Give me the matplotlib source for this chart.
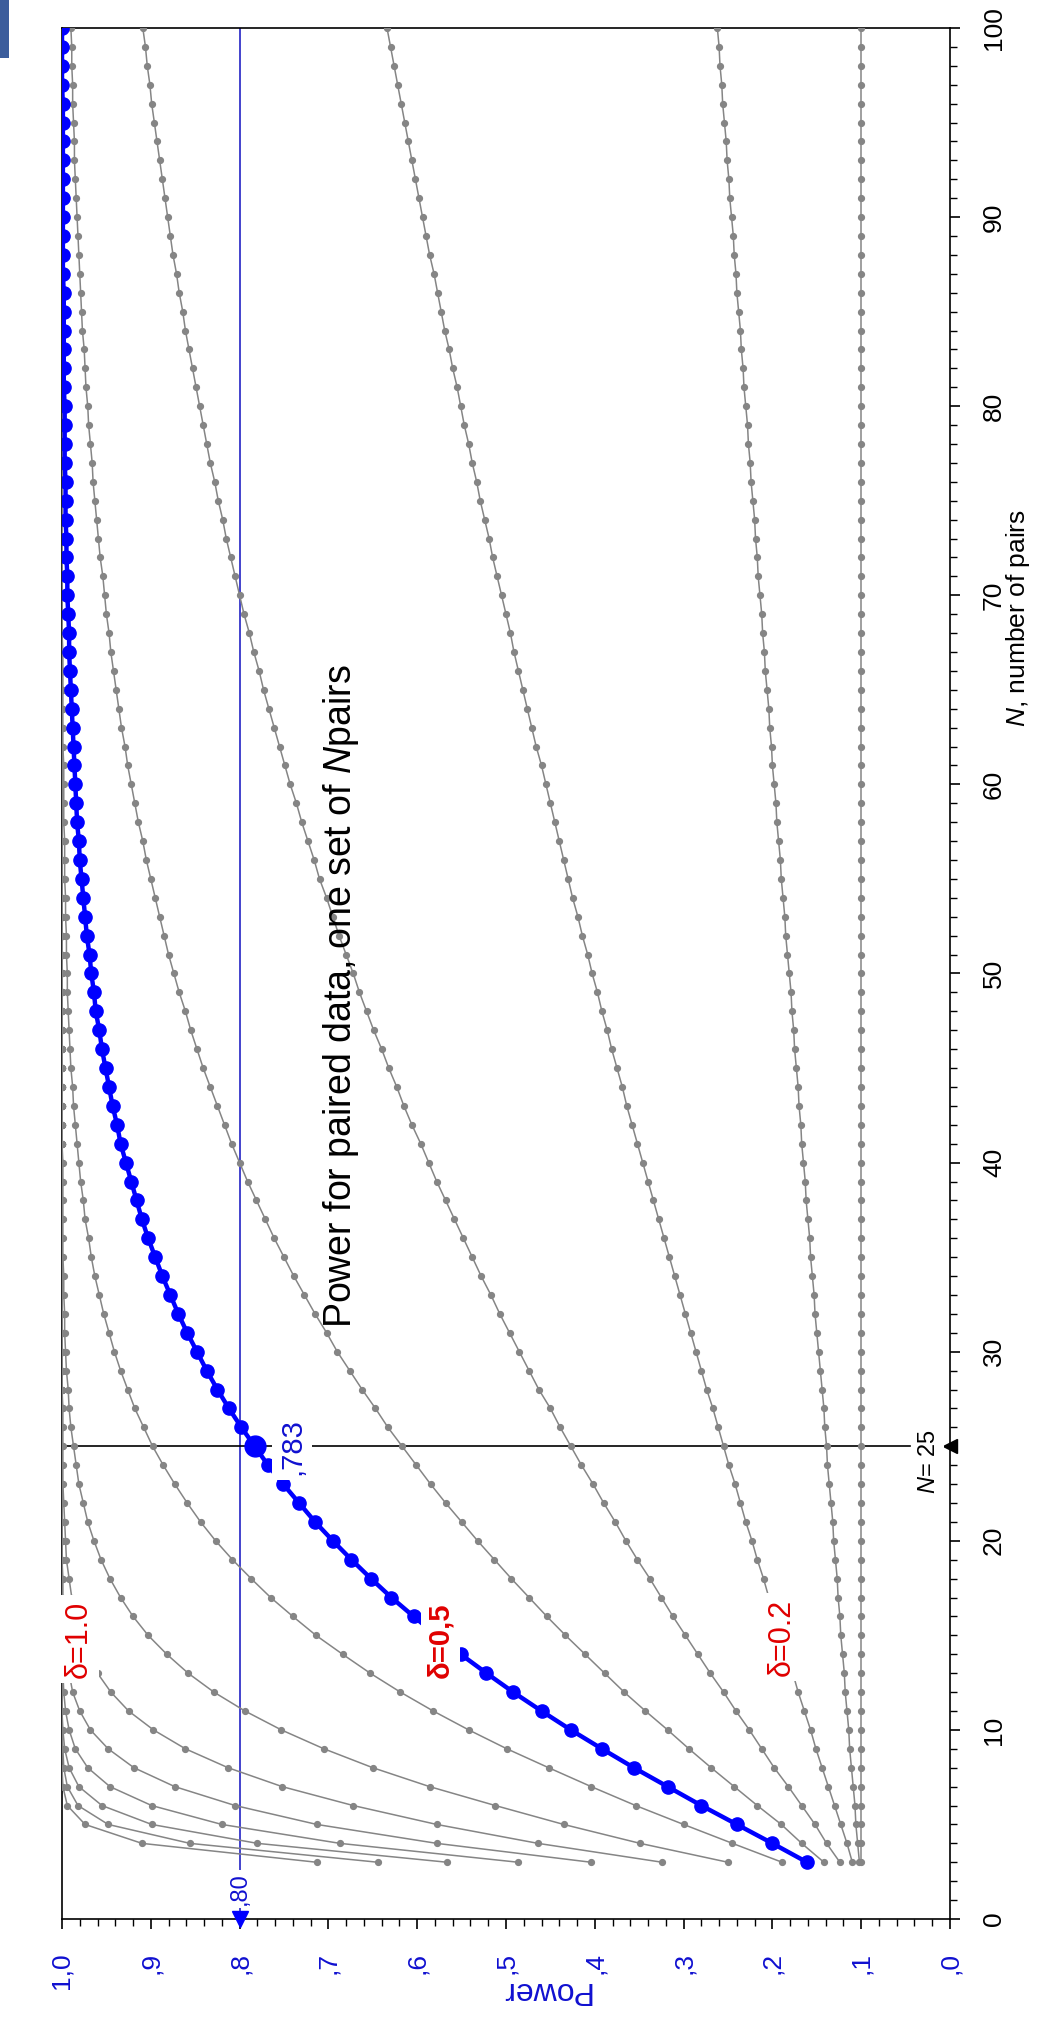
import matplotlib
matplotlib.use("Agg")
import matplotlib.pyplot as plt
from matplotlib.ticker import MultipleLocator, FuncFormatter
from matplotlib.patches import Rectangle

plt.rcParams['font.family'] = ['Liberation Sans', 'DejaVu Sans']
plt.rcParams['mathtext.fontset'] = 'custom'
plt.rcParams['mathtext.it'] = 'Liberation Sans:italic'
plt.rcParams['mathtext.rm'] = 'Liberation Sans'

# ---------------- data ----------------
n_pairs = list(range(3, 101))          # N = 3 ... 100

power_d00 = [0.100] * 98

power_d01 = [0.102, 0.104, 0.106, 0.107, 0.109, 0.111, 0.113, 0.114, 0.116, 0.118,
             0.119, 0.121, 0.123, 0.124, 0.126, 0.127, 0.129, 0.131, 0.132, 0.134,
             0.136, 0.138, 0.139, 0.141, 0.142, 0.144, 0.146, 0.148, 0.150, 0.152,
             0.153, 0.155, 0.157, 0.158, 0.160, 0.162, 0.163, 0.165, 0.167, 0.168,
             0.170, 0.171, 0.173, 0.175, 0.176, 0.178, 0.179, 0.181, 0.183, 0.185,
             0.186, 0.188, 0.190, 0.191, 0.193, 0.195, 0.196, 0.198, 0.200, 0.201,
             0.203, 0.204, 0.206, 0.208, 0.209, 0.211, 0.212, 0.214, 0.216, 0.217,
             0.219, 0.220, 0.222, 0.224, 0.225, 0.227, 0.228, 0.230, 0.232, 0.233,
             0.235, 0.236, 0.238, 0.240, 0.241, 0.243, 0.244, 0.246, 0.248, 0.249,
             0.251, 0.252, 0.254, 0.256, 0.257, 0.259, 0.260, 0.262]

power_d02 = [0.110, 0.116, 0.123, 0.130, 0.137, 0.144, 0.151, 0.157, 0.164, 0.171,
             0.177, 0.184, 0.190, 0.196, 0.204, 0.210, 0.217, 0.223, 0.230, 0.236,
             0.242, 0.249, 0.255, 0.261, 0.267, 0.274, 0.280, 0.286, 0.292, 0.298,
             0.304, 0.310, 0.316, 0.322, 0.328, 0.334, 0.340, 0.346, 0.352, 0.358,
             0.364, 0.369, 0.375, 0.381, 0.386, 0.392, 0.397, 0.403, 0.408, 0.414,
             0.419, 0.425, 0.430, 0.435, 0.440, 0.445, 0.450, 0.455, 0.460, 0.466,
             0.471, 0.476, 0.481, 0.486, 0.491, 0.495, 0.500, 0.505, 0.510, 0.515,
             0.519, 0.524, 0.529, 0.533, 0.538, 0.542, 0.547, 0.551, 0.555, 0.560,
             0.564, 0.569, 0.573, 0.577, 0.581, 0.586, 0.590, 0.594, 0.598, 0.602,
             0.606, 0.610, 0.614, 0.618, 0.622, 0.626, 0.630, 0.634]

power_d03 = [0.124, 0.139, 0.152, 0.167, 0.182, 0.198, 0.212, 0.226, 0.241, 0.255,
             0.270, 0.284, 0.298, 0.312, 0.325, 0.338, 0.352, 0.365, 0.377, 0.390,
             0.402, 0.415, 0.427, 0.439, 0.450, 0.463, 0.474, 0.485, 0.496, 0.507,
             0.517, 0.528, 0.538, 0.548, 0.558, 0.568, 0.578, 0.587, 0.596, 0.606,
             0.615, 0.623, 0.632, 0.640, 0.649, 0.657, 0.665, 0.672, 0.680, 0.688,
             0.695, 0.702, 0.710, 0.716, 0.723, 0.730, 0.736, 0.743, 0.749, 0.755,
             0.761, 0.767, 0.773, 0.778, 0.784, 0.789, 0.795, 0.800, 0.805, 0.810,
             0.815, 0.819, 0.824, 0.828, 0.833, 0.837, 0.841, 0.845, 0.849, 0.853,
             0.857, 0.861, 0.864, 0.868, 0.871, 0.875, 0.878, 0.881, 0.884, 0.887,
             0.890, 0.893, 0.896, 0.899, 0.901, 0.904, 0.906, 0.909]

power_d04 = [0.142, 0.167, 0.190, 0.217, 0.243, 0.269, 0.294, 0.318, 0.343, 0.367,
             0.389, 0.411, 0.433, 0.454, 0.474, 0.494, 0.513, 0.532, 0.550, 0.568,
             0.585, 0.601, 0.617, 0.633, 0.647, 0.662, 0.676, 0.690, 0.702, 0.715,
             0.727, 0.739, 0.750, 0.761, 0.771, 0.781, 0.791, 0.800, 0.809, 0.817,
             0.825, 0.833, 0.841, 0.848, 0.855, 0.861, 0.868, 0.874, 0.880, 0.885,
             0.890, 0.895, 0.900, 0.905, 0.909, 0.914, 0.918, 0.922, 0.926, 0.929,
             0.933, 0.936, 0.939, 0.942, 0.945, 0.947, 0.950, 0.952, 0.954, 0.957,
             0.959, 0.961, 0.963, 0.965, 0.966, 0.968, 0.970, 0.971, 0.973, 0.974,
             0.975, 0.977, 0.978, 0.979, 0.980, 0.981, 0.982, 0.983, 0.984, 0.985,
             0.986, 0.986, 0.987, 0.988, 0.988, 0.989, 0.989, 0.990]

power_d05 = [0.161, 0.200, 0.240, 0.280, 0.318, 0.356, 0.392, 0.427, 0.460, 0.492,
             0.522, 0.551, 0.578, 0.604, 0.629, 0.652, 0.674, 0.695, 0.715, 0.733,
             0.751, 0.768, 0.783, 0.798, 0.812, 0.825, 0.837, 0.848, 0.859, 0.869,
             0.878, 0.887, 0.895, 0.903, 0.910, 0.916, 0.922, 0.928, 0.934, 0.938,
             0.943, 0.947, 0.951, 0.955, 0.958, 0.962, 0.964, 0.967, 0.969, 0.972,
             0.974, 0.976, 0.978, 0.980, 0.981, 0.983, 0.984, 0.985, 0.986, 0.987,
             0.988, 0.989, 0.990, 0.991, 0.992, 0.992, 0.993, 0.994, 0.994, 0.995,
             0.995, 0.996, 0.996, 0.996, 0.997, 0.997, 0.997, 0.997, 0.998, 0.998,
             0.998, 0.998, 0.998, 0.998, 0.999, 0.999, 0.999, 0.999, 0.999, 0.999,
             0.999, 0.999, 0.999, 0.999, 1.000, 1.000, 1.000, 1.000]

power_d06 = [0.189, 0.245, 0.300, 0.354, 0.404, 0.452, 0.499, 0.542, 0.582, 0.619,
             0.653, 0.684, 0.714, 0.740, 0.765, 0.787, 0.808, 0.827, 0.844, 0.859,
             0.873, 0.886, 0.898, 0.908, 0.918, 0.926, 0.934, 0.941, 0.947, 0.953,
             0.958, 0.963, 0.967, 0.970, 0.974, 0.976, 0.979, 0.981, 0.983, 0.985,
             0.987, 0.988, 0.990, 0.991, 0.992, 0.993, 0.994, 0.994, 0.995, 0.995,
             0.996, 0.996, 0.997, 0.997, 0.997, 0.998, 0.998, 0.998, 0.998, 0.999,
             0.999, 0.999, 0.999, 0.999, 0.999, 1.000, 1.000, 1.000, 1.000, 1.000,
             1.000, 1.000, 1.000, 1.000, 1.000, 1.000, 1.000, 1.000, 1.000, 1.000,
             1.000, 1.000, 1.000, 1.000, 1.000, 1.000, 1.000, 1.000, 1.000, 1.000,
             1.000, 1.000, 1.000, 1.000, 1.000, 1.000, 1.000, 1.000]

power_d08 = [0.250, 0.349, 0.435, 0.512, 0.586, 0.650, 0.705, 0.753, 0.794, 0.829,
             0.858, 0.882, 0.903, 0.920, 0.934, 0.946, 0.956, 0.964, 0.971, 0.976,
             0.981, 0.984, 0.987, 0.990, 0.992, 0.993, 0.995, 0.996, 0.997, 0.997,
             0.998, 0.998, 0.999, 0.999, 0.999, 0.999, 0.999, 0.999, 1.000, 1.000,
             1.000, 1.000, 1.000, 1.000, 1.000, 1.000, 1.000, 1.000, 1.000, 1.000,
             1.000, 1.000, 1.000, 1.000, 1.000, 1.000, 1.000, 1.000, 1.000, 1.000,
             1.000, 1.000, 1.000, 1.000, 1.000, 1.000, 1.000, 1.000, 1.000, 1.000,
             1.000, 1.000, 1.000, 1.000, 1.000, 1.000, 1.000, 1.000, 1.000, 1.000,
             1.000, 1.000, 1.000, 1.000, 1.000, 1.000, 1.000, 1.000, 1.000, 1.000,
             1.000, 1.000, 1.000, 1.000, 1.000, 1.000, 1.000, 1.000]

power_d10 = [0.324, 0.464, 0.578, 0.672, 0.752, 0.813, 0.861, 0.897, 0.925, 0.945,
             0.960, 0.971, 0.979, 0.985, 0.989, 0.992, 0.995, 0.996, 0.997, 0.998,
             0.999, 0.999, 0.999, 0.999, 0.999, 1.000, 1.000, 1.000, 1.000, 1.000,
             1.000, 1.000, 1.000, 1.000, 1.000, 1.000, 1.000, 1.000, 1.000, 1.000,
             1.000, 1.000, 1.000, 1.000, 1.000, 1.000, 1.000, 1.000, 1.000, 1.000,
             1.000, 1.000, 1.000, 1.000, 1.000, 1.000, 1.000, 1.000, 1.000, 1.000,
             1.000, 1.000, 1.000, 1.000, 1.000, 1.000, 1.000, 1.000, 1.000, 1.000,
             1.000, 1.000, 1.000, 1.000, 1.000, 1.000, 1.000, 1.000, 1.000, 1.000,
             1.000, 1.000, 1.000, 1.000, 1.000, 1.000, 1.000, 1.000, 1.000, 1.000,
             1.000, 1.000, 1.000, 1.000, 1.000, 1.000, 1.000, 1.000]

power_d12 = [0.404, 0.578, 0.713, 0.805, 0.873, 0.919, 0.948, 0.968, 0.980, 0.988,
             0.992, 0.995, 0.997, 0.998, 0.999, 0.999, 1.000, 1.000, 1.000, 1.000,
             1.000, 1.000, 1.000, 1.000, 1.000, 1.000, 1.000, 1.000, 1.000, 1.000,
             1.000, 1.000, 1.000, 1.000, 1.000, 1.000, 1.000, 1.000, 1.000, 1.000,
             1.000, 1.000, 1.000, 1.000, 1.000, 1.000, 1.000, 1.000, 1.000, 1.000,
             1.000, 1.000, 1.000, 1.000, 1.000, 1.000, 1.000, 1.000, 1.000, 1.000,
             1.000, 1.000, 1.000, 1.000, 1.000, 1.000, 1.000, 1.000, 1.000, 1.000,
             1.000, 1.000, 1.000, 1.000, 1.000, 1.000, 1.000, 1.000, 1.000, 1.000,
             1.000, 1.000, 1.000, 1.000, 1.000, 1.000, 1.000, 1.000, 1.000, 1.000,
             1.000, 1.000, 1.000, 1.000, 1.000, 1.000, 1.000, 1.000]

power_d14 = [0.486, 0.687, 0.820, 0.899, 0.946, 0.971, 0.985, 0.992, 0.996, 0.998,
             0.999, 1.000, 1.000, 1.000, 1.000, 1.000, 1.000, 1.000, 1.000, 1.000,
             1.000, 1.000, 1.000, 1.000, 1.000, 1.000, 1.000, 1.000, 1.000, 1.000,
             1.000, 1.000, 1.000, 1.000, 1.000, 1.000, 1.000, 1.000, 1.000, 1.000,
             1.000, 1.000, 1.000, 1.000, 1.000, 1.000, 1.000, 1.000, 1.000, 1.000,
             1.000, 1.000, 1.000, 1.000, 1.000, 1.000, 1.000, 1.000, 1.000, 1.000,
             1.000, 1.000, 1.000, 1.000, 1.000, 1.000, 1.000, 1.000, 1.000, 1.000,
             1.000, 1.000, 1.000, 1.000, 1.000, 1.000, 1.000, 1.000, 1.000, 1.000,
             1.000, 1.000, 1.000, 1.000, 1.000, 1.000, 1.000, 1.000, 1.000, 1.000,
             1.000, 1.000, 1.000, 1.000, 1.000, 1.000, 1.000, 1.000]

power_d16 = [0.566, 0.780, 0.899, 0.955, 0.981, 0.992, 0.997, 0.999, 1.000, 1.000,
             1.000, 1.000, 1.000, 1.000, 1.000, 1.000, 1.000, 1.000, 1.000, 1.000,
             1.000, 1.000, 1.000, 1.000, 1.000, 1.000, 1.000, 1.000, 1.000, 1.000,
             1.000, 1.000, 1.000, 1.000, 1.000, 1.000, 1.000, 1.000, 1.000, 1.000,
             1.000, 1.000, 1.000, 1.000, 1.000, 1.000, 1.000, 1.000, 1.000, 1.000,
             1.000, 1.000, 1.000, 1.000, 1.000, 1.000, 1.000, 1.000, 1.000, 1.000,
             1.000, 1.000, 1.000, 1.000, 1.000, 1.000, 1.000, 1.000, 1.000, 1.000,
             1.000, 1.000, 1.000, 1.000, 1.000, 1.000, 1.000, 1.000, 1.000, 1.000,
             1.000, 1.000, 1.000, 1.000, 1.000, 1.000, 1.000, 1.000, 1.000, 1.000,
             1.000, 1.000, 1.000, 1.000, 1.000, 1.000, 1.000, 1.000]

power_d18 = [0.644, 0.856, 0.948, 0.982, 0.994, 0.998, 0.999, 1.000, 1.000, 1.000,
             1.000, 1.000, 1.000, 1.000, 1.000, 1.000, 1.000, 1.000, 1.000, 1.000,
             1.000, 1.000, 1.000, 1.000, 1.000, 1.000, 1.000, 1.000, 1.000, 1.000,
             1.000, 1.000, 1.000, 1.000, 1.000, 1.000, 1.000, 1.000, 1.000, 1.000,
             1.000, 1.000, 1.000, 1.000, 1.000, 1.000, 1.000, 1.000, 1.000, 1.000,
             1.000, 1.000, 1.000, 1.000, 1.000, 1.000, 1.000, 1.000, 1.000, 1.000,
             1.000, 1.000, 1.000, 1.000, 1.000, 1.000, 1.000, 1.000, 1.000, 1.000,
             1.000, 1.000, 1.000, 1.000, 1.000, 1.000, 1.000, 1.000, 1.000, 1.000,
             1.000, 1.000, 1.000, 1.000, 1.000, 1.000, 1.000, 1.000, 1.000, 1.000,
             1.000, 1.000, 1.000, 1.000, 1.000, 1.000, 1.000, 1.000]

power_d20 = [0.713, 0.910, 0.974, 0.994, 0.999, 1.000, 1.000, 1.000, 1.000, 1.000,
             1.000, 1.000, 1.000, 1.000, 1.000, 1.000, 1.000, 1.000, 1.000, 1.000,
             1.000, 1.000, 1.000, 1.000, 1.000, 1.000, 1.000, 1.000, 1.000, 1.000,
             1.000, 1.000, 1.000, 1.000, 1.000, 1.000, 1.000, 1.000, 1.000, 1.000,
             1.000, 1.000, 1.000, 1.000, 1.000, 1.000, 1.000, 1.000, 1.000, 1.000,
             1.000, 1.000, 1.000, 1.000, 1.000, 1.000, 1.000, 1.000, 1.000, 1.000,
             1.000, 1.000, 1.000, 1.000, 1.000, 1.000, 1.000, 1.000, 1.000, 1.000,
             1.000, 1.000, 1.000, 1.000, 1.000, 1.000, 1.000, 1.000, 1.000, 1.000,
             1.000, 1.000, 1.000, 1.000, 1.000, 1.000, 1.000, 1.000, 1.000, 1.000,
             1.000, 1.000, 1.000, 1.000, 1.000, 1.000, 1.000, 1.000]

gray_curves = [power_d00, power_d01, power_d02, power_d03, power_d04, power_d06,
               power_d08, power_d10, power_d12, power_d14, power_d16, power_d18,
               power_d20]
highlight_curve = power_d05

target_power = 0.80
chosen_n = 25
power_at_chosen = 0.783

power_ticks = [0.0, 0.1, 0.2, 0.3, 0.4, 0.5, 0.6, 0.7, 0.8, 0.9, 1.0]
n_ticks = [0, 10, 20, 30, 40, 50, 60, 70, 80, 90, 100]

# ---------------- figure ----------------
W, H = 1041, 2017
fig = plt.figure(figsize=(W / 100, H / 100), dpi=100)
ax_l, ax_r, ax_t, ax_b = 62, 950, 28, 1919
ax = fig.add_axes([ax_l / W, 1 - ax_b / H, (ax_r - ax_l) / W, (ax_b - ax_t) / H])

GRAY = '#858585'
BLUE = '#0000ff'
TXTBLUE = '#1010d0'
RED = '#e00000'

for curve in gray_curves:
    ax.plot(curve, n_pairs, color=GRAY, lw=1.1, marker='o', ms=4.2,
            mec=GRAY, mfc=GRAY, zorder=3)

ax.plot(highlight_curve, n_pairs, color=BLUE, lw=3.2, marker='o', ms=9.5,
        mec=BLUE, mfc=BLUE, zorder=4)
ax.plot([power_at_chosen], [chosen_n], 'o', color=BLUE, ms=15, zorder=5)

# reference lines
ax.plot([target_power, target_power], [0, 100], color='#1010c0', lw=1.1, zorder=2)
ax.plot([1.0, 0.045], [chosen_n, chosen_n], color='black', lw=1.2, zorder=2)

# axis markers
ax.plot([target_power], [0], marker='v', color=BLUE, ms=11, clip_on=False, zorder=6)
ax.plot([0.0], [chosen_n], marker='<', color='black', ms=10, clip_on=False, zorder=6)

ax.set_xlim(1.0, 0.0)
ax.set_ylim(0, 100)

for s in ax.spines.values():
    s.set_color('black')
    s.set_linewidth(1.2)

ax.xaxis.set_major_locator(plt.FixedLocator(power_ticks))
ax.xaxis.set_minor_locator(MultipleLocator(0.02))
ax.yaxis.set_major_locator(plt.FixedLocator(n_ticks))
ax.yaxis.set_minor_locator(MultipleLocator(1))
ax.yaxis.tick_right()


def pfmt(v, pos=None):
    s = f"{v:.1f}".replace('.', ',')
    if s.startswith('0'):
        s = s[1:]
    return s


ax.xaxis.set_major_formatter(FuncFormatter(pfmt))
ax.tick_params(axis='x', which='major', direction='out', length=7, width=1.2,
               pad=17, labelsize=19, labelcolor=TXTBLUE, labelrotation=90)
ax.tick_params(axis='x', which='minor', direction='out', length=5, width=1.0)
ax.tick_params(axis='y', which='major', direction='out', length=7, width=1.2,
               pad=16, labelsize=19, labelcolor='black', labelrotation=90)
ax.tick_params(axis='y', which='minor', direction='out', length=5, width=1.0)
for lab in ax.get_yticklabels():
    lab.set_verticalalignment('center')
    lab.set_horizontalalignment('left')

# texts
box = dict(facecolor='white', edgecolor='none', pad=4)
ax.text(0.686, 48.8, r"Power for paired data, one set of $\mathit{N}$pairs",
        rotation=90, ha='center', va='center', fontsize=27, color='black', zorder=7)
ax.text(-0.077, 68.8, r"$\mathit{N}$, number of pairs", rotation=90, ha='center',
        va='center', fontsize=19, color='black', clip_on=False)
ax.text(0.456, -3.75, "Power", rotation=180, ha='center', va='center', fontsize=23,
        color=TXTBLUE, clip_on=False)

ax.text(0.981, 14.8, "δ=1.0", rotation=90, ha='center', va='center', fontsize=22,
        color=RED, bbox=box, zorder=8)
ax.text(0.574, 14.75, "δ=0,5", rotation=90, ha='center', va='center', fontsize=21,
        color=RED, fontweight='bold', bbox=box, zorder=8)
ax.text(0.190, 14.9, "δ=0.2", rotation=90, ha='center', va='center', fontsize=22,
        color=RED, bbox=box, zorder=8)
ax.text(0.741, 25.0, ",783", rotation=90, ha='center', va='center', fontsize=21,
        color=TXTBLUE, bbox=box, zorder=8)
ax.text(0.800, 1.6, ",80", rotation=90, ha='center', va='center', fontsize=17,
        color=TXTBLUE, bbox=dict(facecolor='white', edgecolor='none', pad=2), zorder=8)
ax.text(0.024, 24.2, r"$\mathit{N}$= 25", rotation=90, ha='center', va='center',
        fontsize=17, color='black', bbox=dict(facecolor='white', edgecolor='none', pad=3),
        zorder=8)

# window-corner remnant at top-left of the screenshot
fig.patches.append(Rectangle((0, 1 - 58 / H), 9 / W, 58 / H, transform=fig.transFigure,
                             facecolor='#3b5d9c', edgecolor='none'))

fig.savefig('out.png', dpi=100)
